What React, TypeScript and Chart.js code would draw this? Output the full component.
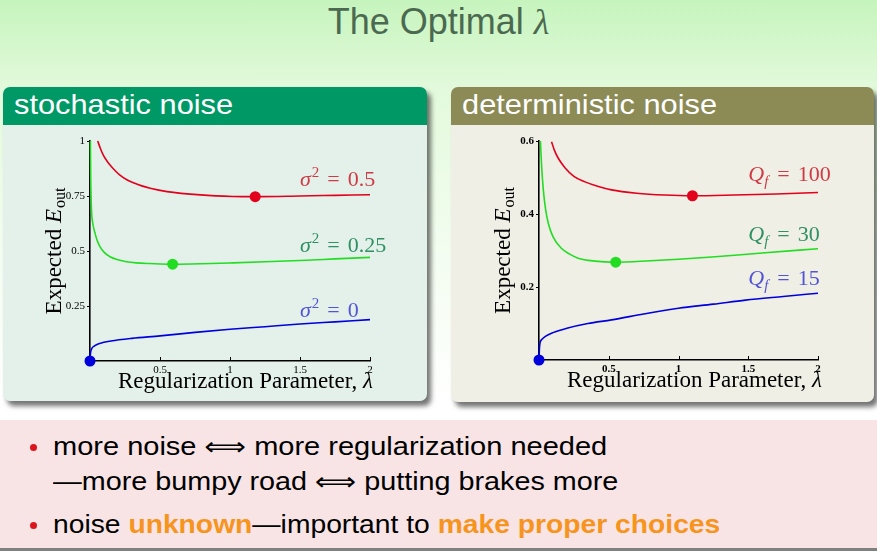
import React, { useEffect, useRef } from "react";
import { Chart, registerables } from "chart.js";

Chart.register(...registerables);

const SERIF = "'Liberation Serif', 'DejaVu Serif', serif";
const SANS = "'Liberation Sans', Arial, 'DejaVu Sans', sans-serif";

// ---------------- data ----------------
const X_TICKS = [0.5, 1, 1.5, 2];
const STOCH_Y_TICKS = [0.25, 0.5, 0.75, 1];
const DET_Y_TICKS = [0.2, 0.4, 0.6];

// stochastic noise: sigma^2 = 0.5
const STOCH_HIGH_LAMBDA = [0.055, 0.075, 0.095, 0.12, 0.143, 0.18, 0.214, 0.26, 0.31, 0.37, 0.43, 0.55, 0.79, 1.02, 1.18, 1.5, 1.75, 2.0];
const STOCH_HIGH_EOUT = [1.0, 0.965, 0.936, 0.91, 0.891, 0.865, 0.845, 0.825, 0.81, 0.796, 0.785, 0.77, 0.755, 0.748, 0.747, 0.75, 0.753, 0.756];
// sigma^2 = 0.25
const STOCH_MID_LAMBDA = [0.003, 0.005, 0.008, 0.012, 0.02, 0.036, 0.05, 0.071, 0.1, 0.143, 0.2, 0.26, 0.33, 0.43, 0.59, 0.8, 1.02, 1.25, 1.5, 1.75, 2.0];
const STOCH_MID_EOUT = [1.0, 0.84, 0.74, 0.67, 0.625, 0.58, 0.55, 0.52, 0.495, 0.474, 0.46, 0.451, 0.446, 0.443, 0.44, 0.442, 0.446, 0.451, 0.457, 0.464, 0.471];
// sigma^2 = 0
const STOCH_ZERO_LAMBDA = [0, 0.002, 0.005, 0.012, 0.03, 0.07, 0.15, 0.3, 0.5, 0.75, 1.0, 1.25, 1.5, 1.75, 2.0];
const STOCH_ZERO_EOUT = [0, 0.025, 0.042, 0.056, 0.068, 0.08, 0.091, 0.103, 0.114, 0.13, 0.144, 0.156, 0.168, 0.178, 0.188];
// optimal lambda markers
const STOCH_OPT_LAMBDA = [1.18, 0.59, 0];
const STOCH_OPT_EOUT = [0.747, 0.44, 0];
const STOCH_LABEL_VALUES = ["0.5", "0.25", "0"];

// deterministic noise: Qf = 100
const DET_HIGH_LAMBDA = [0.09, 0.11, 0.139, 0.186, 0.25, 0.33, 0.42, 0.52, 0.7, 0.9, 1.1, 1.4, 1.7, 2.0];
const DET_HIGH_EOUT = [0.598, 0.575, 0.552, 0.527, 0.503, 0.488, 0.476, 0.466, 0.457, 0.452, 0.45, 0.452, 0.455, 0.459];
// Qf = 30
const DET_MID_LAMBDA = [0.01, 0.019, 0.031, 0.048, 0.067, 0.1, 0.16, 0.22, 0.28, 0.4, 0.55, 0.8, 1.0, 1.24, 1.6, 2.0];
const DET_MID_EOUT = [0.6, 0.53, 0.466, 0.411, 0.374, 0.338, 0.306, 0.29, 0.279, 0.271, 0.268, 0.272, 0.276, 0.282, 0.293, 0.305];
// Qf = 15
const DET_LOW_LAMBDA = [0, 0.003, 0.007, 0.02, 0.043, 0.1, 0.2, 0.35, 0.52, 0.75, 1.0, 1.25, 1.48, 1.75, 2.0];
const DET_LOW_EOUT = [0, 0.03, 0.046, 0.056, 0.064, 0.075, 0.087, 0.1, 0.11, 0.126, 0.142, 0.153, 0.164, 0.174, 0.183];
const DET_OPT_LAMBDA = [1.1, 0.55, 0];
const DET_OPT_EOUT = [0.45, 0.268, 0];
const DET_LABEL_VALUES = ["100", "30", "15"];

// label anchors (data units)
const STOCH_LABEL_LAMBDA = [1.5, 1.5, 1.5];
const STOCH_LABEL_EOUT = [0.795, 0.495, 0.2];
const DET_LABEL_LAMBDA = [1.5, 1.5, 1.5];
const DET_LABEL_EOUT = [0.49, 0.326, 0.206];

const LINE_COLORS = ["#e2001c", "#22dd22", "#0000dc"];
const LABEL_COLORS = ["#cf3a45", "#2f9163", "#5353d6"];

// ---------------- helpers ----------------
type Part = { t: string; size: number; italic?: boolean; bold?: boolean; dy?: number; gap?: number };

function fontOf(p: Part) {
  return `${p.italic ? "italic " : ""}${p.bold ? "bold " : ""}${p.size}px ${SERIF}`;
}
function partsWidth(ctx: CanvasRenderingContext2D, parts: Part[]) {
  let w = 0;
  for (const p of parts) {
    ctx.font = fontOf(p);
    w += ctx.measureText(p.t).width + (p.gap || 0);
  }
  return w;
}
function drawParts(ctx: CanvasRenderingContext2D, parts: Part[], x: number, y: number) {
  let cx = x;
  for (const p of parts) {
    ctx.font = fontOf(p);
    ctx.fillText(p.t, cx, y + (p.dy || 0));
    cx += ctx.measureText(p.t).width + (p.gap || 0);
  }
}

const zip = (xs: number[], ys: number[]) => xs.map((x, i) => ({ x, y: ys[i] }));

type PanelCfg = {
  left: number;
  top: number;
  width: number;
  height: number;
  pad: { left: number; right: number; top: number; bottom: number };
  yMax: number;
  yTicks: number[];
  series: { x: number[]; y: number[] }[];
  optX: number[];
  optY: number[];
  labelX: number[];
  labelY: number[];
  labelParts: (i: number) => Part[];
  boldTicks?: boolean;
};

function ChartCanvas({ cfg }: { cfg: PanelCfg }) {
  const ref = useRef<HTMLCanvasElement | null>(null);
  useEffect(() => {
    const decor = {
      id: "decor",
      beforeDatasetsDraw(chart: any) {
        const { ctx, chartArea: a, scales } = chart;
        const xs = scales.x;
        const ys = scales.y;
        ctx.save();
        ctx.strokeStyle = "#000";
        ctx.lineWidth = 1;
        ctx.beginPath();
        X_TICKS.forEach((v) => {
          const px = Math.round(xs.getPixelForValue(v)) + 0.5;
          ctx.moveTo(px, a.bottom);
          ctx.lineTo(px, a.bottom - 4);
        });
        cfg.yTicks.forEach((v) => {
          const py = Math.round(ys.getPixelForValue(v)) + 0.5;
          ctx.moveTo(a.left - 3, py);
          ctx.lineTo(a.left, py);
        });
        ctx.stroke();

        ctx.fillStyle = "#000";
        ctx.textBaseline = "alphabetic";
        ctx.textAlign = "left";
        const xt: Part[] = [
          { t: "Regularization Parameter, ", size: 23 },
          { t: "λ", size: 23, italic: true },
        ];
        drawParts(ctx, xt, a.left + 28, a.bottom + 27);

        ctx.save();
        ctx.translate(a.left - 29, (a.top + a.bottom) / 2);
        ctx.rotate(-Math.PI / 2);
        const yt: Part[] = [
          { t: "Expected ", size: 23 },
          { t: "E", size: 23, italic: true, gap: 1 },
          { t: "out", size: 16, dy: 4 },
        ];
        drawParts(ctx, yt, -partsWidth(ctx, yt) / 2, 0);
        ctx.restore();

        cfg.labelX.forEach((lx, i) => {
          ctx.fillStyle = LABEL_COLORS[i];
          drawParts(ctx, cfg.labelParts(i), xs.getPixelForValue(lx), ys.getPixelForValue(cfg.labelY[i]));
        });
        ctx.restore();
      },
    };

    const datasets: any[] = cfg.series.map((s, i) => ({
      data: zip(s.x, s.y),
      borderColor: LINE_COLORS[i],
      borderWidth: 1.6,
      pointRadius: 0,
      fill: false,
      cubicInterpolationMode: "monotone",
      clip: false,
    }));
    datasets.push({
      data: zip(cfg.optX, cfg.optY),
      showLine: false,
      pointRadius: 5.5,
      pointBorderWidth: 0,
      pointBackgroundColor: LINE_COLORS,
      pointBorderColor: LINE_COLORS,
      clip: false,
    });

    const tickFont = { family: SERIF, size: 11, weight: cfg.boldTicks ? "bold" : "normal" };

    const chart = new Chart(ref.current as HTMLCanvasElement, {
      type: "line",
      data: { datasets },
      plugins: [decor],
      options: {
        animation: false,
        responsive: false,
        devicePixelRatio: 1,
        events: [],
        layout: { padding: cfg.pad },
        plugins: { legend: { display: false }, tooltip: { enabled: false } },
        scales: {
          x: {
            type: "linear",
            min: 0,
            max: 2,
            grid: { display: false, drawTicks: false },
            border: { display: true, color: "#000", width: 1.6 },
            ticks: { color: "#000", font: tickFont as any, padding: 3, maxRotation: 0, callback: (v: any) => String(v) },
            afterBuildTicks: (s: any) => {
              s.ticks = X_TICKS.map((v) => ({ value: v }));
            },
            afterFit: (s: any) => {
              s.height = 20;
            },
          },
          y: {
            type: "linear",
            min: 0,
            max: cfg.yMax,
            grid: { display: false, drawTicks: false },
            border: { display: true, color: "#000", width: 1.6 },
            ticks: { color: "#000", font: tickFont as any, padding: 5, callback: (v: any) => String(v) },
            afterBuildTicks: (s: any) => {
              s.ticks = cfg.yTicks.map((v) => ({ value: v }));
            },
            afterFit: (s: any) => {
              s.width = 40;
            },
          },
        },
      } as any,
    });
    return () => chart.destroy();
  }, []);
  return (
    <canvas
      ref={ref}
      width={cfg.width}
      height={cfg.height}
      style={{ position: "absolute", left: cfg.left, top: cfg.top, width: cfg.width, height: cfg.height }}
    />
  );
}

const stochCfg: PanelCfg = {
  left: 3,
  top: 125,
  width: 424,
  height: 276,
  pad: { left: 47, right: 57, top: 16, bottom: 20 },
  yMax: 1,
  yTicks: STOCH_Y_TICKS,
  series: [
    { x: STOCH_HIGH_LAMBDA, y: STOCH_HIGH_EOUT },
    { x: STOCH_MID_LAMBDA, y: STOCH_MID_EOUT },
    { x: STOCH_ZERO_LAMBDA, y: STOCH_ZERO_EOUT },
  ],
  optX: STOCH_OPT_LAMBDA,
  optY: STOCH_OPT_EOUT,
  labelX: STOCH_LABEL_LAMBDA,
  labelY: STOCH_LABEL_EOUT,
  labelParts: (i) => [
    { t: "σ", size: 22, italic: true, gap: 1 },
    { t: "2", size: 15, dy: -9, gap: 8 },
    { t: "=", size: 22, gap: 8 },
    { t: STOCH_LABEL_VALUES[i], size: 22 },
  ],
};

const detCfg: PanelCfg = {
  left: 451,
  top: 125,
  width: 423,
  height: 277,
  pad: { left: 48, right: 56, top: 16, bottom: 22 },
  yMax: 0.6,
  yTicks: DET_Y_TICKS,
  series: [
    { x: DET_HIGH_LAMBDA, y: DET_HIGH_EOUT },
    { x: DET_MID_LAMBDA, y: DET_MID_EOUT },
    { x: DET_LOW_LAMBDA, y: DET_LOW_EOUT },
  ],
  optX: DET_OPT_LAMBDA,
  optY: DET_OPT_EOUT,
  labelX: DET_LABEL_LAMBDA,
  labelY: DET_LABEL_EOUT,
  labelParts: (i) => [
    { t: "Q", size: 22, italic: true },
    { t: "f", size: 15, italic: true, dy: 5, gap: 9 },
    { t: "=", size: 22, gap: 8 },
    { t: DET_LABEL_VALUES[i], size: 22 },
  ],
  boldTicks: true,
};

function Panel({ left, width, bodyBottom, head, body, title }: any) {
  return (
    <>
      <div
        style={{
          position: "absolute",
          left,
          top: 87,
          width,
          height: bodyBottom - 87,
          borderRadius: 7,
          background: body,
          boxShadow: "4px 5px 5px rgba(0,0,0,0.55)",
          overflow: "hidden",
        }}
      >
        <div style={{ position: "absolute", left: 0, top: 0, width, height: 38, background: head }} />
      </div>
      <div
        style={{
          position: "absolute",
          left: left + 11,
          top: 91.3,
          fontFamily: SANS,
          fontSize: 28,
          lineHeight: "28px",
          color: "#fff",
          whiteSpace: "nowrap",
          transform: "scaleX(1.1)",
          transformOrigin: "left center",
        }}
      >
        {title}
      </div>
    </>
  );
}

function Bullet({ y }: { y: number }) {
  return (
    <div
      style={{
        position: "absolute",
        left: 30,
        top: y - 3.5,
        width: 7,
        height: 7,
        borderRadius: "50%",
        background: "#dc141e",
      }}
    />
  );
}

const lineStyle = (top: number, sx: number): React.CSSProperties => ({
  position: "absolute",
  left: 53,
  top,
  fontFamily: SANS,
  fontSize: 25,
  lineHeight: "25px",
  color: "#000",
  whiteSpace: "nowrap",
  transform: `scaleX(${sx})`,
  transformOrigin: "left center",
});

export default function App() {
  const orange = { color: "#f7941d", fontWeight: "bold" as const };
  return (
    <div
      style={{
        position: "fixed",
        left: 0,
        top: 0,
        width: 877,
        height: 551,
        overflow: "hidden",
        background: "linear-gradient(to bottom, #c6f4bd 0px, #e3fadc 90px, #f3fdf0 250px, #ffffff 410px)",
      }}
    >
      <div
        style={{
          position: "absolute",
          left: 0,
          top: 3.8,
          width: 877,
          textAlign: "center",
          fontFamily: SANS,
          fontSize: 36,
          lineHeight: "36px",
          color: "#4b6950",
          whiteSpace: "nowrap",
        }}
      >
        The Optimal <span style={{ fontFamily: SERIF, fontStyle: "italic" }}>λ</span>
      </div>

      <Panel left={3} width={424} bodyBottom={401} head="#009966" body="#e4f1eb" title="stochastic noise" />
      <Panel left={451} width={423} bodyBottom={402} head="#8c8a55" body="#efefe6" title="deterministic noise" />

      <ChartCanvas cfg={stochCfg} />
      <ChartCanvas cfg={detCfg} />

      <div style={{ position: "absolute", left: 0, top: 420, width: 877, height: 128, background: "#f8e4e5" }} />
      <div style={{ position: "absolute", left: 0, top: 548, width: 877, height: 3, background: "#808080" }} />

      <Bullet y={447} />
      <div style={lineStyle(434.2, 1.16)}>more noise ⟺ more regularization needed</div>
      <div style={lineStyle(469.2, 1.15)}>—more bumpy road ⟺ putting brakes more</div>
      <Bullet y={525} />
      <div style={lineStyle(512.2, 1.13)}>
        noise <span style={orange}>unknown</span>—important to <span style={orange}>make proper choices</span>
      </div>
    </div>
  );
}
